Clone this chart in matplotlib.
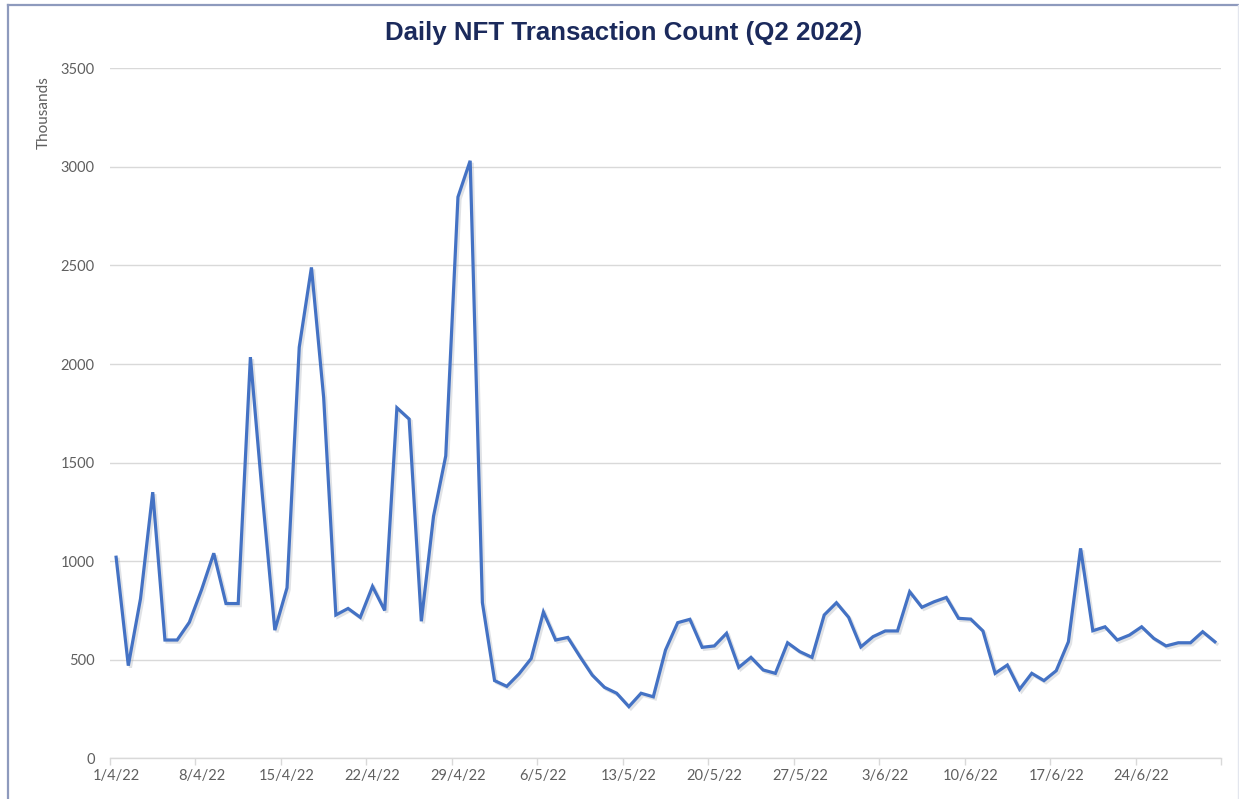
import numpy as np
import matplotlib
matplotlib.use("Agg")
import matplotlib.pyplot as plt
import matplotlib.patheffects as pe
from matplotlib.lines import Line2D

# ---- data (thousands of transactions per day, 1 Apr 2022 - 30 Jun 2022) ----
daily_counts = [
    1020, 470, 810, 1350, 600, 600, 690, 855, 1040, 785,
    785, 2035, 1320, 650, 865, 2085, 2490, 1830, 727, 760,
    715, 872, 750, 1778, 1721, 695, 1228, 1534, 2847, 3031,
    790, 394, 365, 428, 506, 742, 600, 613, 515, 422,
    360, 330, 262, 330, 312, 549, 688, 705, 563, 570,
    634, 461, 512, 448, 431, 586, 541, 512, 727, 789,
    715, 565, 617, 646, 646, 845, 766, 794, 816, 710,
    706, 646, 431, 473, 350, 431, 394, 444, 591, 1065,
    647, 667, 600, 625, 667, 608, 570, 586, 586, 642,
    591,
]
tick_labels = ["1/4/22", "8/4/22", "15/4/22", "22/4/22", "29/4/22", "6/5/22",
               "13/5/22", "20/5/22", "27/5/22", "3/6/22", "10/6/22", "17/6/22",
               "24/6/22"]
y_ticks = [0, 500, 1000, 1500, 2000, 2500, 3000, 3500]
title = "Daily NFT Transaction Count (Q2 2022)"
y_label = "Thousands"

W, H = 1239, 799
fig = plt.figure(figsize=(W / 100, H / 100), dpi=100)
fig.patch.set_facecolor("white")

ax = fig.add_axes([110 / W, 1 - 758.3 / H, (1221 - 110) / W, (758.3 - 68.3) / H])

days = np.arange(len(daily_counts))
ax.plot(days, daily_counts, color="#4472c4", lw=2.3, solid_joinstyle="miter",
        path_effects=[pe.SimpleLineShadow(offset=(1.5, -1.5), shadow_color="#9aa0aa", alpha=0.3),
                      pe.Normal()], zorder=3)

ax.set_xlim(-0.5, len(daily_counts) - 0.5)
ax.set_ylim(0, 3500)

for s in ["top", "right", "left"]:
    ax.spines[s].set_visible(False)
ax.spines["bottom"].set_color("#d9d9d9")
ax.spines["bottom"].set_linewidth(1.0)

ax.set_yticks(y_ticks)
ax.set_yticklabels([str(v) for v in y_ticks])
ax.yaxis.grid(True, color="#d9d9d9", lw=1.0)
ax.set_axisbelow(True)
ax.tick_params(axis="y", length=0, pad=11, labelsize=10.5, labelcolor="#5f5f5f")

label_pos = np.arange(0, len(daily_counts), 7)
ax.set_xticks(np.arange(-0.5, len(daily_counts), 7))
ax.set_xticklabels([])
ax.tick_params(axis="x", which="major", length=5, color="#d9d9d9", width=1.0)
ax.set_xticks(label_pos, minor=True)
ax.set_xticklabels(tick_labels, minor=True)
ax.tick_params(axis="x", which="minor", length=0, pad=8, labelsize=10.5, labelcolor="#5f5f5f")

for t in ax.get_xticklabels(minor=True) + ax.get_yticklabels():
    t.set_family("Lato")

fig.text(44 / W, 1 - 113 / H, y_label, rotation=90, ha="center", va="center",
         fontsize=11, color="#5f5f5f", family="Lato")

fig.text(624 / W, 1 - 33 / H, title, ha="center", va="center", fontsize=18.6,
         fontweight="bold", color="#1b2a5c", family="Liberation Sans")

# chart frame
fig.add_artist(Line2D([7.5 / W, 7.5 / W], [0, 1 - 5 / H], transform=fig.transFigure,
                      color="#8e9abd", lw=1.6))
fig.add_artist(Line2D([7.5 / W, 1237.5 / W], [1 - 5 / H, 1 - 5 / H], transform=fig.transFigure,
                      color="#8e9abd", lw=1.6))
fig.add_artist(Line2D([1237.5 / W, 1237.5 / W], [0, 1 - 5 / H], transform=fig.transFigure,
                      color="#e3e6ee", lw=1.0))

fig.savefig("out.png", dpi=100, facecolor="white")
